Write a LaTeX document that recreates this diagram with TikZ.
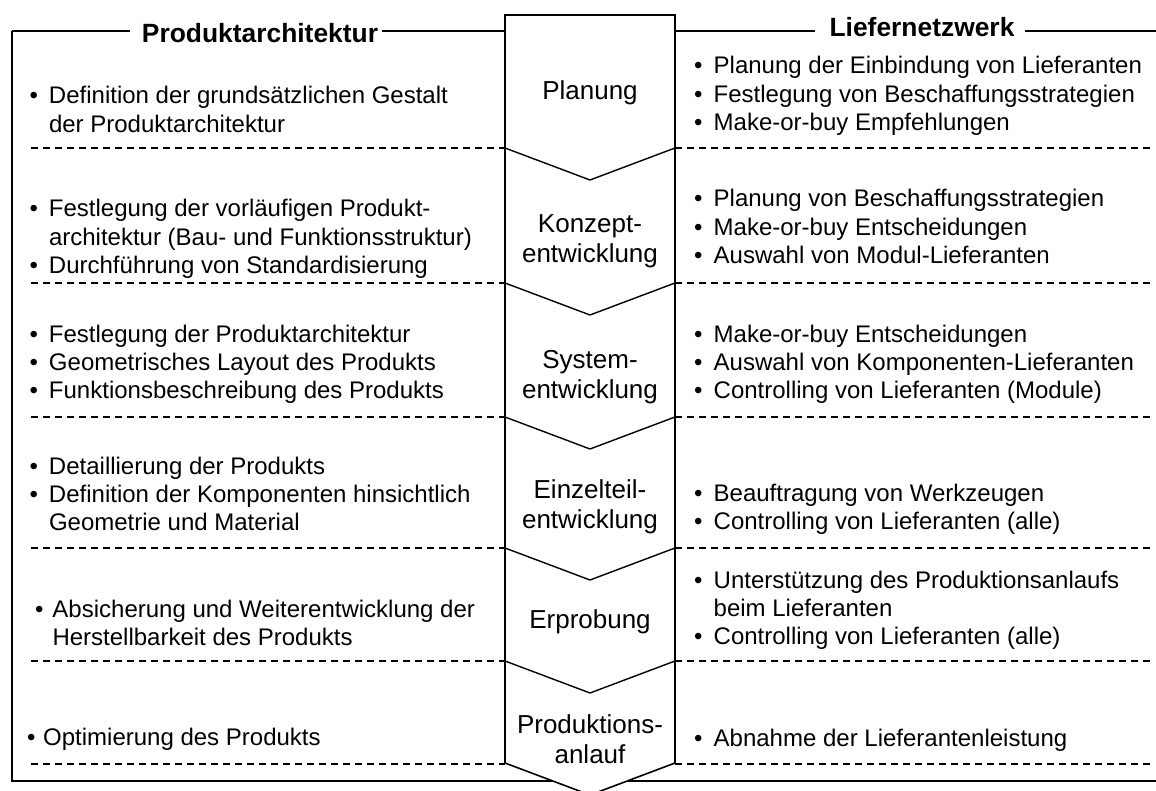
\documentclass[tikz,border=0pt]{standalone}
\usepackage{fontspec}
\setmainfont{Liberation Sans}
\newcommand\bpt[1][19.5pt]{\makebox[#1][l]{•}}
\tikzset{
  frameline/.style={line width=1.6pt, black},
  sepline/.style={line width=1.2pt, dash pattern=on 7pt off 5pt},
  colshape/.style={line width=1.6pt, fill=white},
  chev/.style={line width=1.4pt},
  body/.style={anchor=base west, inner sep=0pt, font=\fontsize{24}{28.4}\selectfont},
  phase/.style={anchor=base, inner sep=0pt, font=\fontsize{26}{30}\selectfont},
  title/.style={anchor=base, inner sep=0pt, font=\bfseries\fontsize{26.4}{30}\selectfont},
}
\begin{document}
\begin{tikzpicture}[x=1pt,y=-1pt]
\useasboundingbox (0,0) rectangle (1156,791);
% frame
\draw[frameline] (12,31) -- (12,781) -- (1156,781);
\draw[frameline] (12,31) -- (130,31) (382,31) -- (505,31) (675,31) -- (815,31) (1025,31) -- (1156,31);
% separators
\foreach \y in {148,283,417,548,661,764}{
  \draw[sepline] (31,\y) -- (505,\y);
  \draw[sepline] (675,\y) -- (1152,\y);
}
% phase column
\draw[colshape] (505,15) -- (675,15) -- (675,763) -- (590,795) -- (505,763) -- cycle;
\foreach \y in {148,283,417,548,661}{
  \draw[chev] (505,\y) -- (590,\y+32) -- (675,\y);
}
% titles
\node[title] (ttl) at (260,43) {Produktarchitektur};
\node[title] (ttr) at (922,37) {Liefernetzwerk};
% phases
\node[phase] (p1) at (590,100) {Planung};
\node[phase] (p2) at (590,233) {\begin{tabular}[t]{@{}c@{}}Konzept-\\entwicklung\end{tabular}};
\node[phase] (p3) at (590,368) {\begin{tabular}[t]{@{}c@{}}System-\\entwicklung\end{tabular}};
\node[phase] (p4) at (590,498) {\begin{tabular}[t]{@{}c@{}}Einzelteil-\\entwicklung\end{tabular}};
\node[phase] (p5) at (590,628) {Erprobung};
\node[phase] (p6) at (590,733) {\begin{tabular}[t]{@{}c@{}}Produktions-\\anlauf\end{tabular}};
% left texts
\node[body] (l1) at (29.3,104) {\begin{tabular}[t]{@{}l@{}l@{}}\bpt & Definition der grundsätzlichen Gestalt\\ & der Produktarchitektur\end{tabular}};
\node[body] (l2) at (29.3,217) {\begin{tabular}[t]{@{}l@{}l@{}}\bpt & Festlegung der vorläufigen Produkt-\\ & architektur (Bau- und Funktionsstruktur)\\ \bpt & Durchführung von Standardisierung\end{tabular}};
\node[body] (l3) at (29.3,342) {\begin{tabular}[t]{@{}l@{}l@{}}\bpt & Festlegung der Produktarchitektur\\ \bpt & Geometrisches Layout des Produkts\\ \bpt & Funktionsbeschreibung des Produkts\end{tabular}};
\node[body] (l4) at (29.3,474) {\begin{tabular}[t]{@{}l@{}l@{}}\bpt & Detaillierung der Produkts\\ \bpt & Definition der Komponenten hinsichtlich\\ & Geometrie und Material\end{tabular}};
\node[body] (l5) at (35,617) {\begin{tabular}[t]{@{}l@{}l@{}}\bpt[17.3pt] & Absicherung und Weiterentwicklung der\\ & Herstellbarkeit des Produkts\end{tabular}};
\node[body] (l6) at (27,745) {\begin{tabular}[t]{@{}l@{}l@{}}\bpt[16pt] & Optimierung des Produkts\end{tabular}};
% right texts
\node[body] (r1) at (694,74) {\begin{tabular}[t]{@{}l@{}l@{}}\bpt & Planung der Einbindung von Lieferanten\\ \bpt & Festlegung von Beschaffungsstrategien\\ \bpt & Make-or-buy Empfehlungen\end{tabular}};
\node[body] (r2) at (694,207) {\begin{tabular}[t]{@{}l@{}l@{}}\bpt & Planung von Beschaffungsstrategien\\ \bpt & Make-or-buy Entscheidungen\\ \bpt & Auswahl von Modul-Lieferanten\end{tabular}};
\node[body] (r3) at (694,342) {\begin{tabular}[t]{@{}l@{}l@{}}\bpt & Make-or-buy Entscheidungen\\ \bpt & Auswahl von Komponenten-Lieferanten\\ \bpt & Controlling von Lieferanten (Module)\end{tabular}};
\node[body] (r4) at (694,501) {\begin{tabular}[t]{@{}l@{}l@{}}\bpt & Beauftragung von Werkzeugen\\ \bpt & Controlling von Lieferanten (alle)\end{tabular}};
\node[body] (r5) at (694,588) {\begin{tabular}[t]{@{}l@{}l@{}}\bpt & Unterstützung des Produktionsanlaufs\\ & beim Lieferanten\\ \bpt & Controlling von Lieferanten (alle)\end{tabular}};
\node[body] (r6) at (694,746) {\begin{tabular}[t]{@{}l@{}l@{}}\bpt & Abnahme der Lieferantenleistung\end{tabular}};
\end{tikzpicture}
\end{document}
